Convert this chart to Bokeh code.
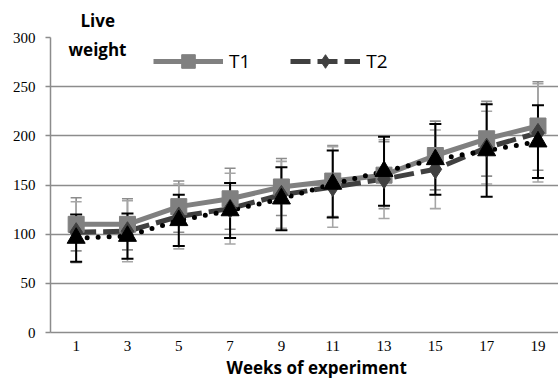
from bokeh.plotting import figure
from bokeh.models import Range1d, FixedTicker, Label, Legend, LegendItem, Title
from bokeh.embed import file_html
from bokeh.resources import INLINE

# ---- data ----
weeks = [1, 3, 5, 7, 9, 11, 13, 15, 17, 19]
week_labels = ["1", "3", "5", "7", "9", "11", "13", "15", "17", "19"]
t1 = [110, 110, 128, 136, 148, 154, 160, 180, 197, 210]
t1_err = [27, 26, 26, 31, 29, 36, 34, 35, 38, 45]
t2 = [102, 103, 118, 126, 140, 148, 156, 166, 188, 203]
t2_err = [31, 31, 33, 36, 34, 41, 40, 40, 37, 50]
t3 = [96, 98, 114, 124, 136, 151, 164, 176, 185, 194]
t3_err = [24, 23, 26, 28, 32, 34, 35, 36, 47, 37]
y_ticks = [0, 50, 100, 150, 200, 250, 300]
series_names = ["T1", "T2"]
x_title = "Weeks of experiment"
y_title = ["Live", "weight"]

p = figure(frame_width=508, frame_height=295, output_backend="svg",
           toolbar_location=None,
           x_range=Range1d(0, 19.8), y_range=Range1d(0, 300),
           min_border_left=50, min_border_right=0, min_border_top=37,
           min_border_bottom=48)
p.outline_line_color = None
p.background_fill_color = "white"
p.border_fill_color = "white"

grid_col = "#8c8c8c"
p.xgrid.visible = False
p.ygrid.grid_line_color = grid_col
p.ygrid.grid_line_width = 1.5
p.ygrid.ticker = FixedTicker(ticks=y_ticks)

p.yaxis.ticker = FixedTicker(ticks=y_ticks)
p.yaxis.axis_line_color = grid_col
p.yaxis.axis_line_width = 1.5
p.yaxis.major_tick_line_color = grid_col
p.yaxis.major_tick_line_width = 1.5
p.yaxis.major_tick_out = 5
p.yaxis.major_tick_in = 0
p.yaxis.minor_tick_line_color = None
p.yaxis.major_label_standoff = 10
p.yaxis.major_label_text_font = "Liberation Serif"
p.yaxis.major_label_text_font_size = "15px"
p.yaxis.major_label_text_color = "black"

p.xaxis.ticker = FixedTicker(ticks=weeks)
p.xaxis.major_label_overrides = {w: l for w, l in zip(weeks, week_labels)}
p.xaxis.axis_line_color = grid_col
p.xaxis.axis_line_width = 1.5
p.xaxis.major_tick_line_color = None
p.xaxis.major_tick_out = 0
p.xaxis.major_tick_in = 0
p.xaxis.minor_tick_line_color = None
p.xaxis.major_label_standoff = 8
p.xaxis.major_label_text_font = "Liberation Serif"
p.xaxis.major_label_text_font_size = "15px"
p.xaxis.major_label_text_color = "black"

# ---- error bars ----
def errbars(vals, errs, color, width, cap):
    up = [v + e for v, e in zip(vals, errs)]
    lo = [v - e for v, e in zip(vals, errs)]
    p.segment(x0=weeks, y0=lo, x1=weeks, y1=up, line_color=color, line_width=width)
    p.scatter(x=weeks + weeks, y=up + lo, marker="dash", size=cap,
              line_color=color, line_width=width)

errbars(t1, t1_err, "#8c8c8c", 1.6, 11)
errbars(t2, t2_err, "#a6a6a6", 1.6, 11)
errbars(t3, t3_err, "black", 2, 12)

# ---- lines ----
l1 = p.line(weeks, t1, line_color="#808080", line_width=5)
l2 = p.line(weeks, t2, line_color="#404040", line_width=5, line_dash="20 7")
l3 = p.line(weeks, t3, line_color="black", line_width=5, line_dash="0 11",
            line_cap="round")

# ---- markers ----
m1 = p.scatter(weeks, t1, marker="square", size=16, fill_color="#808080",
               line_color="#808080")
m2 = p.scatter(weeks, t2, marker="diamond", size=19, fill_color="#404040",
               line_color="#404040")
m3 = p.scatter(weeks, t3, marker="triangle", size=18, fill_color="black",
               line_color="black")

legend = Legend(items=[LegendItem(label=series_names[0], renderers=[l1, m1]),
                       LegendItem(label=series_names[1], renderers=[l2, m2])],
                orientation="horizontal", location=(103, 254),
                glyph_width=70, glyph_height=34, label_height=24,
                label_standoff=6, spacing=40, padding=0, margin=0,
                border_line_color=None, background_fill_alpha=0,
                label_text_font="Open Sans", label_text_font_size="19px",
                label_text_color="black")
p.add_layout(legend)

# ---- titles ----
p.add_layout(Title(text=y_title[0], align="left", offset=30, standoff=12,
                   text_font="Open Sans", text_font_style="bold",
                   text_font_size="17px", text_color="black"), "above")
p.add_layout(Label(x=47, y=283, x_units="screen", y_units="screen", text=y_title[1],
                   text_align="center", text_baseline="middle",
                   text_font="Open Sans", text_font_style="bold",
                   text_font_size="17px", text_color="black"))
p.add_layout(Title(text=x_title, align="left", offset=176, standoff=0,
                   text_font="Open Sans", text_font_style="bold",
                   text_font_size="17px", text_color="black"), "below")

open("out.html", "w").write(file_html(p, INLINE))
